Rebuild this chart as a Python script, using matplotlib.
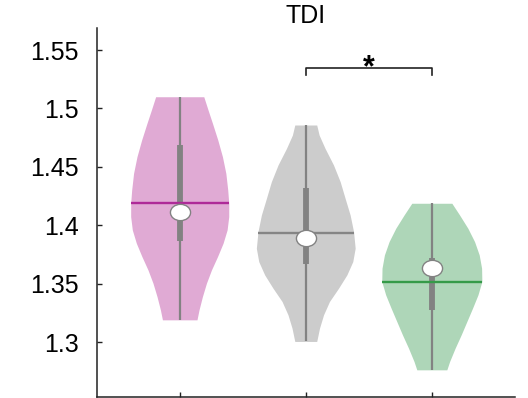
import numpy as np
import matplotlib
matplotlib.use("Agg")
import matplotlib.pyplot as plt
from matplotlib.path import Path
from matplotlib.transforms import Affine2D

plt.rcParams['font.family'] = ['Liberation Sans', 'DejaVu Sans']

# ---- data ----
positions = [1, 2, 3]
title = "TDI"
yticks = [1.3, 1.35, 1.4, 1.45, 1.5, 1.55]
ytick_labels = ["1.3", "1.35", "1.4", "1.45", "1.5", "1.55"]

# violin outline: y levels and half widths (x data units)
pink_y = [1.5100, 1.4986, 1.4872, 1.4730, 1.4587, 1.4445, 1.4302, 1.4188, 1.4074,
          1.3960, 1.3846, 1.3732, 1.3618, 1.3504, 1.3389, 1.3275, 1.3190]
pink_w = [0.191, 0.225, 0.260, 0.302, 0.339, 0.366, 0.381, 0.389, 0.389,
          0.376, 0.344, 0.300, 0.252, 0.212, 0.180, 0.153, 0.137]
gray_y = [1.4858, 1.4772, 1.4658, 1.4516, 1.4373, 1.4231, 1.4088, 1.3946, 1.3803,
          1.3689, 1.3575, 1.3461, 1.3347, 1.3233, 1.3119, 1.3005]
gray_w = [0.087, 0.106, 0.153, 0.220, 0.273, 0.312, 0.352, 0.379, 0.392,
          0.373, 0.326, 0.260, 0.188, 0.141, 0.109, 0.087]
green_y = [1.4188, 1.4088, 1.3974, 1.3860, 1.3746, 1.3632, 1.3518, 1.3404, 1.3290,
           1.3176, 1.3062, 1.2948, 1.2833, 1.2762]
green_w = [0.159, 0.220, 0.286, 0.339, 0.376, 0.395, 0.397, 0.366, 0.323,
           0.278, 0.233, 0.185, 0.141, 0.119]

means = [1.4188, 1.3934, 1.3518]
medians = [1.4117, 1.3894, 1.3638]
q1 = [1.3868, 1.3666, 1.3275]
q3 = [1.4688, 1.4317, 1.3718]
mins = [1.3190, 1.3005, 1.2762]
maxs = [1.5100, 1.4858, 1.4188]

fill_colors = ["#E0AAD4", "#CCCCCC", "#AED6B8"]
mean_colors = ["#AE2A98", "#858585", "#359A48"]
box_color = "#828282"

sig_pair = (2, 3)
sig_y = 1.535
sig_drop = 0.0065
sig_text = "*"

# ---- figure ----
fig = plt.figure(figsize=(5.28, 3.98), dpi=100)
ax = fig.add_axes([0.1828, 0.0018, 0.7926, 0.928])

# slightly wide oval marker for the medians
oval = Path.unit_circle().transformed(Affine2D().scale(1.0, 0.81))

profiles = [(pink_y, pink_w), (gray_y, gray_w), (green_y, green_w)]
for i, (yy, ww) in enumerate(profiles):
    p = positions[i]
    yy = np.asarray(yy)
    ww = np.asarray(ww)
    ax.fill_betweenx(yy, p - ww, p + ww, color=fill_colors[i], lw=0, zorder=1)
    # whisker
    ax.plot([p, p], [mins[i], maxs[i]], color=box_color, lw=1.6, zorder=2,
            solid_capstyle='butt')
    # box (IQR)
    ax.plot([p, p], [q1[i], q3[i]], color=box_color, lw=4.2, zorder=3,
            solid_capstyle='butt')
    # mean line across violin
    order = np.argsort(yy)
    hw = np.interp(means[i], yy[order], ww[order])
    ax.plot([p - hw, p + hw], [means[i], means[i]], color=mean_colors[i],
            lw=1.7, zorder=4, solid_capstyle='butt')
    # median
    ax.plot([p], [medians[i]], marker=oval, ms=14.5, mfc='white',
            mec=box_color, mew=1.0, zorder=5, ls='none')

# significance bracket
x0, x1 = sig_pair
ax.plot([x0, x0, x1, x1], [sig_y - sig_drop, sig_y, sig_y, sig_y - sig_drop],
        color="#222222", lw=1.2, zorder=6)
ax.text((x0 + x1) / 2, 1.5273, sig_text, ha='center', va='baseline',
        fontsize=22, fontweight='bold', color='black')

ax.set_xlim(0.34, 3.66)
ax.set_ylim(1.2527, 1.5689)
ax.set_xticks(positions)
ax.set_xticklabels([])
ax.set_yticks(yticks)
ax.set_yticklabels(ytick_labels)
ax.tick_params(axis='both', direction='in', length=3.5, width=1.0,
               labelsize=18, color='#222222')
ax.tick_params(axis='y', pad=13)
for s in ['top', 'right']:
    ax.spines[s].set_visible(False)
for s in ['left', 'bottom']:
    ax.spines[s].set_linewidth(1.1)
    ax.spines[s].set_color('#222222')
ax.set_title(title, fontsize=18, pad=1)

fig.savefig("out.png", dpi=100)
